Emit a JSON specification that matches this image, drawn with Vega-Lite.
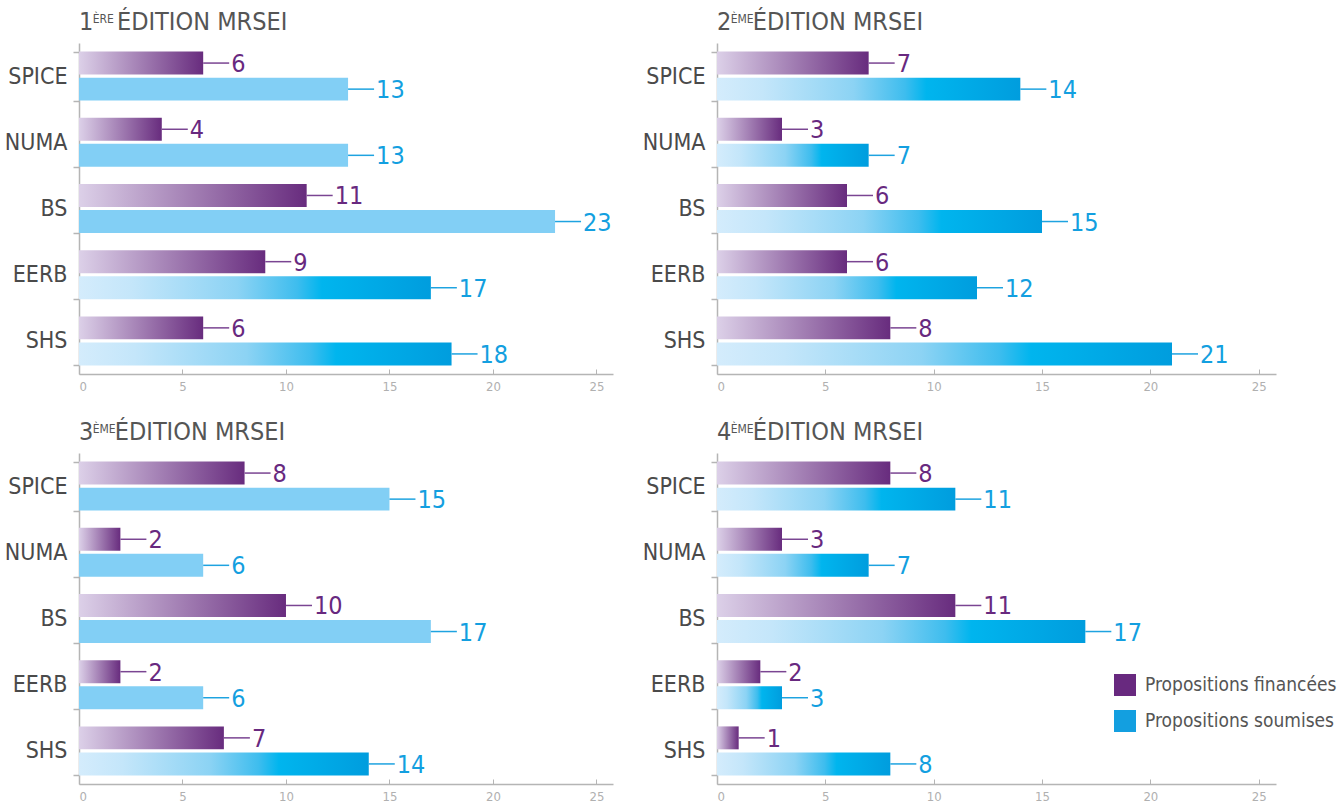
{
  "$schema": "https://vega.github.io/schema/vega-lite/v6.json",
  "padding": {"left": 4, "top": 10, "right": 0, "bottom": 0},
  "background": "white",
  "columns": 2,
  "spacing": {"row": 27, "column": 29},
  "resolve": {"legend": {"color": "independent"}},
  "data": {"values": [
    {"edition": 1, "cat": "SPICE", "serie": "Propositions financées", "v": 6},
    {"edition": 1, "cat": "SPICE", "serie": "Propositions soumises", "v": 13},
    {"edition": 1, "cat": "NUMA", "serie": "Propositions financées", "v": 4},
    {"edition": 1, "cat": "NUMA", "serie": "Propositions soumises", "v": 13},
    {"edition": 1, "cat": "BS", "serie": "Propositions financées", "v": 11},
    {"edition": 1, "cat": "BS", "serie": "Propositions soumises", "v": 23},
    {"edition": 1, "cat": "EERB", "serie": "Propositions financées", "v": 9},
    {"edition": 1, "cat": "EERB", "serie": "Propositions soumises", "v": 17},
    {"edition": 1, "cat": "SHS", "serie": "Propositions financées", "v": 6},
    {"edition": 1, "cat": "SHS", "serie": "Propositions soumises", "v": 18},
    {"edition": 2, "cat": "SPICE", "serie": "Propositions financées", "v": 7},
    {"edition": 2, "cat": "SPICE", "serie": "Propositions soumises", "v": 14},
    {"edition": 2, "cat": "NUMA", "serie": "Propositions financées", "v": 3},
    {"edition": 2, "cat": "NUMA", "serie": "Propositions soumises", "v": 7},
    {"edition": 2, "cat": "BS", "serie": "Propositions financées", "v": 6},
    {"edition": 2, "cat": "BS", "serie": "Propositions soumises", "v": 15},
    {"edition": 2, "cat": "EERB", "serie": "Propositions financées", "v": 6},
    {"edition": 2, "cat": "EERB", "serie": "Propositions soumises", "v": 12},
    {"edition": 2, "cat": "SHS", "serie": "Propositions financées", "v": 8},
    {"edition": 2, "cat": "SHS", "serie": "Propositions soumises", "v": 21},
    {"edition": 3, "cat": "SPICE", "serie": "Propositions financées", "v": 8},
    {"edition": 3, "cat": "SPICE", "serie": "Propositions soumises", "v": 15},
    {"edition": 3, "cat": "NUMA", "serie": "Propositions financées", "v": 2},
    {"edition": 3, "cat": "NUMA", "serie": "Propositions soumises", "v": 6},
    {"edition": 3, "cat": "BS", "serie": "Propositions financées", "v": 10},
    {"edition": 3, "cat": "BS", "serie": "Propositions soumises", "v": 17},
    {"edition": 3, "cat": "EERB", "serie": "Propositions financées", "v": 2},
    {"edition": 3, "cat": "EERB", "serie": "Propositions soumises", "v": 6},
    {"edition": 3, "cat": "SHS", "serie": "Propositions financées", "v": 7},
    {"edition": 3, "cat": "SHS", "serie": "Propositions soumises", "v": 14},
    {"edition": 4, "cat": "SPICE", "serie": "Propositions financées", "v": 8},
    {"edition": 4, "cat": "SPICE", "serie": "Propositions soumises", "v": 11},
    {"edition": 4, "cat": "NUMA", "serie": "Propositions financées", "v": 3},
    {"edition": 4, "cat": "NUMA", "serie": "Propositions soumises", "v": 7},
    {"edition": 4, "cat": "BS", "serie": "Propositions financées", "v": 11},
    {"edition": 4, "cat": "BS", "serie": "Propositions soumises", "v": 17},
    {"edition": 4, "cat": "EERB", "serie": "Propositions financées", "v": 2},
    {"edition": 4, "cat": "EERB", "serie": "Propositions soumises", "v": 3},
    {"edition": 4, "cat": "SHS", "serie": "Propositions financées", "v": 1},
    {"edition": 4, "cat": "SHS", "serie": "Propositions soumises", "v": 8}
  ]},
  "concat": [
    {
      "title": {"text": "1\u00a0\u00a0\u00a0\u200aÉDITION MRSEI", "subtitle": "\u200d\u00a0\u00a0\u00a0\u00a0ÈRE"},
      "width": 534, "height": 331,
      "transform": [{"filter": "datum.edition == 1"}],
      "encoding": {
        "y": {"field": "cat", "type": "nominal", "sort": ["SPICE", "NUMA", "BS", "EERB", "SHS"], "scale": {"paddingInner": 0.26, "paddingOuter": 0.13}, "axis": {"title": null}},
        "yOffset": {"field": "serie", "type": "nominal", "sort": ["Propositions financées", "Propositions soumises"], "scale": {"paddingInner": 0.12, "paddingOuter": 0}},
        "x": {"field": "v", "type": "quantitative", "scale": {"domain": [0, 25.8], "nice": false}, "axis": {"title": null, "values": [0, 5, 10, 15, 20, 25]}}
      },
      "layer": [
        {"transform": [{"filter": "datum.serie == 'Propositions financées'"}], "mark": {"type": "bar", "color": {"gradient": "linear", "x1": 0, "y1": 0, "x2": 1, "y2": 0, "stops": [{"offset": 0, "color": "#dcd0e8"}, {"offset": 1, "color": "#682c7e"}]}}},
        {"transform": [{"filter": "datum.serie == 'Propositions soumises' && (datum.cat == 'EERB' || datum.cat == 'SHS')"}], "mark": {"type": "bar", "color": {"gradient": "linear", "x1": 0, "y1": 0, "x2": 1, "y2": 0, "stops": [{"offset": 0, "color": "#d4ecfc"}, {"offset": 0.15, "color": "#c4e6fa"}, {"offset": 0.45, "color": "#8cd3f4"}, {"offset": 0.62, "color": "#3ebdee"}, {"offset": 0.69, "color": "#00b5ee"}, {"offset": 1, "color": "#009dde"}]}}},
        {"transform": [{"filter": "datum.serie == 'Propositions soumises' && datum.cat != 'EERB' && datum.cat != 'SHS'"}], "mark": {"type": "bar", "color": "#82cff5"}},
        {"mark": {"type": "rule", "x2Offset": 26, "strokeWidth": 1.5}, "encoding": {"x2": {"field": "v"}, "color": {"condition": {"test": "datum.serie == 'Propositions financées'", "value": "#7a4592"}, "value": "#1ea3e0"}}},
        {"mark": {"type": "text", "align": "left", "baseline": "middle", "dx": 28, "dy": 1, "fontSize": 25}, "encoding": {"text": {"field": "v"}, "color": {"field": "serie", "type": "nominal", "legend": null}}}
      ]
    },
    {
      "title": {"text": "2\u00a0\u00a0\u00a0ÉDITION MRSEI", "subtitle": "\u200d\u00a0\u00a0\u00a0\u00a0ÈME"},
      "width": 559, "height": 331,
      "transform": [{"filter": "datum.edition == 2"}],
      "encoding": {
        "y": {"field": "cat", "type": "nominal", "sort": ["SPICE", "NUMA", "BS", "EERB", "SHS"], "scale": {"paddingInner": 0.26, "paddingOuter": 0.13}, "axis": {"title": null}},
        "yOffset": {"field": "serie", "type": "nominal", "sort": ["Propositions financées", "Propositions soumises"], "scale": {"paddingInner": 0.12, "paddingOuter": 0}},
        "x": {"field": "v", "type": "quantitative", "scale": {"domain": [0, 25.8], "nice": false}, "axis": {"title": null, "values": [0, 5, 10, 15, 20, 25]}}
      },
      "layer": [
        {"transform": [{"filter": "datum.serie == 'Propositions financées'"}], "mark": {"type": "bar", "color": {"gradient": "linear", "x1": 0, "y1": 0, "x2": 1, "y2": 0, "stops": [{"offset": 0, "color": "#dcd0e8"}, {"offset": 1, "color": "#682c7e"}]}}},
        {"transform": [{"filter": "datum.serie == 'Propositions soumises'"}], "mark": {"type": "bar", "color": {"gradient": "linear", "x1": 0, "y1": 0, "x2": 1, "y2": 0, "stops": [{"offset": 0, "color": "#d4ecfc"}, {"offset": 0.15, "color": "#c4e6fa"}, {"offset": 0.45, "color": "#8cd3f4"}, {"offset": 0.62, "color": "#3ebdee"}, {"offset": 0.69, "color": "#00b5ee"}, {"offset": 1, "color": "#009dde"}]}}},
        {"mark": {"type": "rule", "x2Offset": 26, "strokeWidth": 1.5}, "encoding": {"x2": {"field": "v"}, "color": {"condition": {"test": "datum.serie == 'Propositions financées'", "value": "#7a4592"}, "value": "#1ea3e0"}}},
        {"mark": {"type": "text", "align": "left", "baseline": "middle", "dx": 28, "dy": 1, "fontSize": 25}, "encoding": {"text": {"field": "v"}, "color": {"field": "serie", "type": "nominal", "legend": null}}}
      ]
    },
    {
      "title": {"text": "3\u00a0\u00a0\u00a0ÉDITION MRSEI", "subtitle": "\u200d\u00a0\u00a0\u00a0\u00a0ÈME"},
      "width": 534, "height": 331,
      "transform": [{"filter": "datum.edition == 3"}],
      "encoding": {
        "y": {"field": "cat", "type": "nominal", "sort": ["SPICE", "NUMA", "BS", "EERB", "SHS"], "scale": {"paddingInner": 0.26, "paddingOuter": 0.13}, "axis": {"title": null}},
        "yOffset": {"field": "serie", "type": "nominal", "sort": ["Propositions financées", "Propositions soumises"], "scale": {"paddingInner": 0.12, "paddingOuter": 0}},
        "x": {"field": "v", "type": "quantitative", "scale": {"domain": [0, 25.8], "nice": false}, "axis": {"title": null, "values": [0, 5, 10, 15, 20, 25]}}
      },
      "layer": [
        {"transform": [{"filter": "datum.serie == 'Propositions financées'"}], "mark": {"type": "bar", "color": {"gradient": "linear", "x1": 0, "y1": 0, "x2": 1, "y2": 0, "stops": [{"offset": 0, "color": "#dcd0e8"}, {"offset": 1, "color": "#682c7e"}]}}},
        {"transform": [{"filter": "datum.serie == 'Propositions soumises' && datum.cat == 'SHS'"}], "mark": {"type": "bar", "color": {"gradient": "linear", "x1": 0, "y1": 0, "x2": 1, "y2": 0, "stops": [{"offset": 0, "color": "#d4ecfc"}, {"offset": 0.15, "color": "#c4e6fa"}, {"offset": 0.45, "color": "#8cd3f4"}, {"offset": 0.62, "color": "#3ebdee"}, {"offset": 0.69, "color": "#00b5ee"}, {"offset": 1, "color": "#009dde"}]}}},
        {"transform": [{"filter": "datum.serie == 'Propositions soumises' && datum.cat != 'SHS'"}], "mark": {"type": "bar", "color": "#82cff5"}},
        {"mark": {"type": "rule", "x2Offset": 26, "strokeWidth": 1.5}, "encoding": {"x2": {"field": "v"}, "color": {"condition": {"test": "datum.serie == 'Propositions financées'", "value": "#7a4592"}, "value": "#1ea3e0"}}},
        {"mark": {"type": "text", "align": "left", "baseline": "middle", "dx": 28, "dy": 1, "fontSize": 25}, "encoding": {"text": {"field": "v"}, "color": {"field": "serie", "type": "nominal", "legend": null}}}
      ]
    },
    {
      "title": {"text": "4\u00a0\u00a0\u00a0ÉDITION MRSEI", "subtitle": "\u200d\u00a0\u00a0\u00a0\u00a0ÈME"},
      "width": 559, "height": 331,
      "transform": [{"filter": "datum.edition == 4"}],
      "encoding": {
        "y": {"field": "cat", "type": "nominal", "sort": ["SPICE", "NUMA", "BS", "EERB", "SHS"], "scale": {"paddingInner": 0.26, "paddingOuter": 0.13}, "axis": {"title": null}},
        "yOffset": {"field": "serie", "type": "nominal", "sort": ["Propositions financées", "Propositions soumises"], "scale": {"paddingInner": 0.12, "paddingOuter": 0}},
        "x": {"field": "v", "type": "quantitative", "scale": {"domain": [0, 25.8], "nice": false}, "axis": {"title": null, "values": [0, 5, 10, 15, 20, 25]}}
      },
      "layer": [
        {"transform": [{"filter": "datum.serie == 'Propositions financées'"}], "mark": {"type": "bar", "color": {"gradient": "linear", "x1": 0, "y1": 0, "x2": 1, "y2": 0, "stops": [{"offset": 0, "color": "#dcd0e8"}, {"offset": 1, "color": "#682c7e"}]}}},
        {"transform": [{"filter": "datum.serie == 'Propositions soumises'"}], "mark": {"type": "bar", "color": {"gradient": "linear", "x1": 0, "y1": 0, "x2": 1, "y2": 0, "stops": [{"offset": 0, "color": "#d4ecfc"}, {"offset": 0.15, "color": "#c4e6fa"}, {"offset": 0.45, "color": "#8cd3f4"}, {"offset": 0.62, "color": "#3ebdee"}, {"offset": 0.69, "color": "#00b5ee"}, {"offset": 1, "color": "#009dde"}]}}},
        {"mark": {"type": "rule", "x2Offset": 26, "strokeWidth": 1.5}, "encoding": {"x2": {"field": "v"}, "color": {"condition": {"test": "datum.serie == 'Propositions financées'", "value": "#7a4592"}, "value": "#1ea3e0"}}},
        {"mark": {"type": "text", "align": "left", "baseline": "middle", "dx": 28, "dy": 1, "fontSize": 25}, "encoding": {"text": {"field": "v"}, "color": {"field": "serie", "type": "nominal", "scale": {"domain": ["Propositions financées", "Propositions soumises"], "range": ["#68297f", "#139fe0"]}, "legend": {"title": null, "orient": "none", "legendX": 396, "legendY": 220, "symbolType": "square", "symbolSize": 484}}}}
      ]
    }
  ],
  "config": {
    "font": "Liberation Sans Narrow, DejaVu Sans Condensed, sans-serif",
    "view": {"stroke": null},
    "title": {"anchor": "start", "frame": "group", "fontSize": 25, "fontWeight": "normal", "color": "#555555", "offset": -3, "subtitleFontSize": 12, "subtitleColor": "#555555", "subtitlePadding": -21, "font": "Liberation Sans Narrow, DejaVu Sans Condensed, sans-serif", "subtitleFont": "Liberation Sans Narrow, DejaVu Sans Condensed, sans-serif"},
    "axisY": {"domainColor": "#b5b5b5", "domainWidth": 1.5, "tickColor": "#b5b5b5", "tickWidth": 1.5, "tickBand": "extent", "tickSize": 6, "labelFontSize": 23, "labelColor": "#4a4a4a", "labelPadding": 6, "labelFont": "Liberation Sans Narrow, DejaVu Sans Condensed, sans-serif"},
    "axisX": {"domainColor": "#b5b5b5", "domainWidth": 1.5, "tickColor": "#b5b5b5", "tickSize": -5, "labelColor": "#b0b0b0", "labelFontSize": 13, "labelPadding": 11, "grid": false, "labelFont": "Liberation Sans Narrow, DejaVu Sans Condensed, sans-serif"},
    "legend": {"labelFontSize": 19, "labelColor": "#555555", "rowPadding": 13, "labelOffset": 8, "labelLimit": 400, "labelFont": "Liberation Sans Narrow, DejaVu Sans Condensed, sans-serif"}
  }
}
